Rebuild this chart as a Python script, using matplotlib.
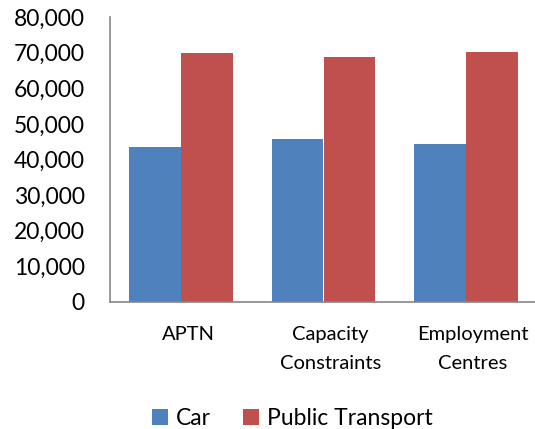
import numpy as np
import matplotlib
matplotlib.use("Agg")
import matplotlib.pyplot as plt
from matplotlib.ticker import FuncFormatter
import matplotlib.transforms as mtransforms

categories = ["APTN", "Capacity\nConstraints", "Employment\nCentres"]
car = [43500, 45800, 44350]
public_transport = [69900, 68700, 70250]

plt.rcParams["font.family"] = ["Lato", "DejaVu Sans"]

W, H = 535, 429
fig = plt.figure(figsize=(W / 100, H / 100), dpi=100)
# plot area in pixels: left 110, right ~537, bottom 302, top 17
ax = fig.add_axes([110 / W, (H - 302) / H, 427 / W, 285 / H])

x = np.arange(len(categories))
w = 0.363
ax.bar(x - w / 2, car, w, color="#4F81BD", label="Car")
ax.bar(x + w / 2, public_transport, w, color="#C0504D", label="Public Transport")

ax.set_xlim(-0.5, 2.5)
ax.set_ylim(0, 80000)
ax.set_yticks(np.arange(0, 80001, 10000))
ax.yaxis.set_major_formatter(FuncFormatter(lambda v, p: f"{int(v):,}"))
ax.tick_params(axis="y", length=0, pad=18, labelsize=16.5)
ax.tick_params(axis="x", length=0, pad=17, labelsize=14.5)
ax.set_xticks(x)
ax.set_xticklabels(categories, linespacing=1.85)
offset = mtransforms.ScaledTranslation(7 / 100, 0, fig.dpi_scale_trans)
for lab in ax.get_xticklabels():
    lab.set_transform(lab.get_transform() + offset)

for side in ["top", "right"]:
    ax.spines[side].set_visible(False)
for side in ["left", "bottom"]:
    ax.spines[side].set_color("#868686")
    ax.spines[side].set_linewidth(1.2)

fig.legend(loc="center", bbox_to_anchor=(0.546, 0.024), ncol=2, frameon=False,
           fontsize=16.5, handlelength=0.7, handleheight=0.7, handletextpad=0.35,
           columnspacing=1.4)

fig.savefig("out.png", dpi=100)
